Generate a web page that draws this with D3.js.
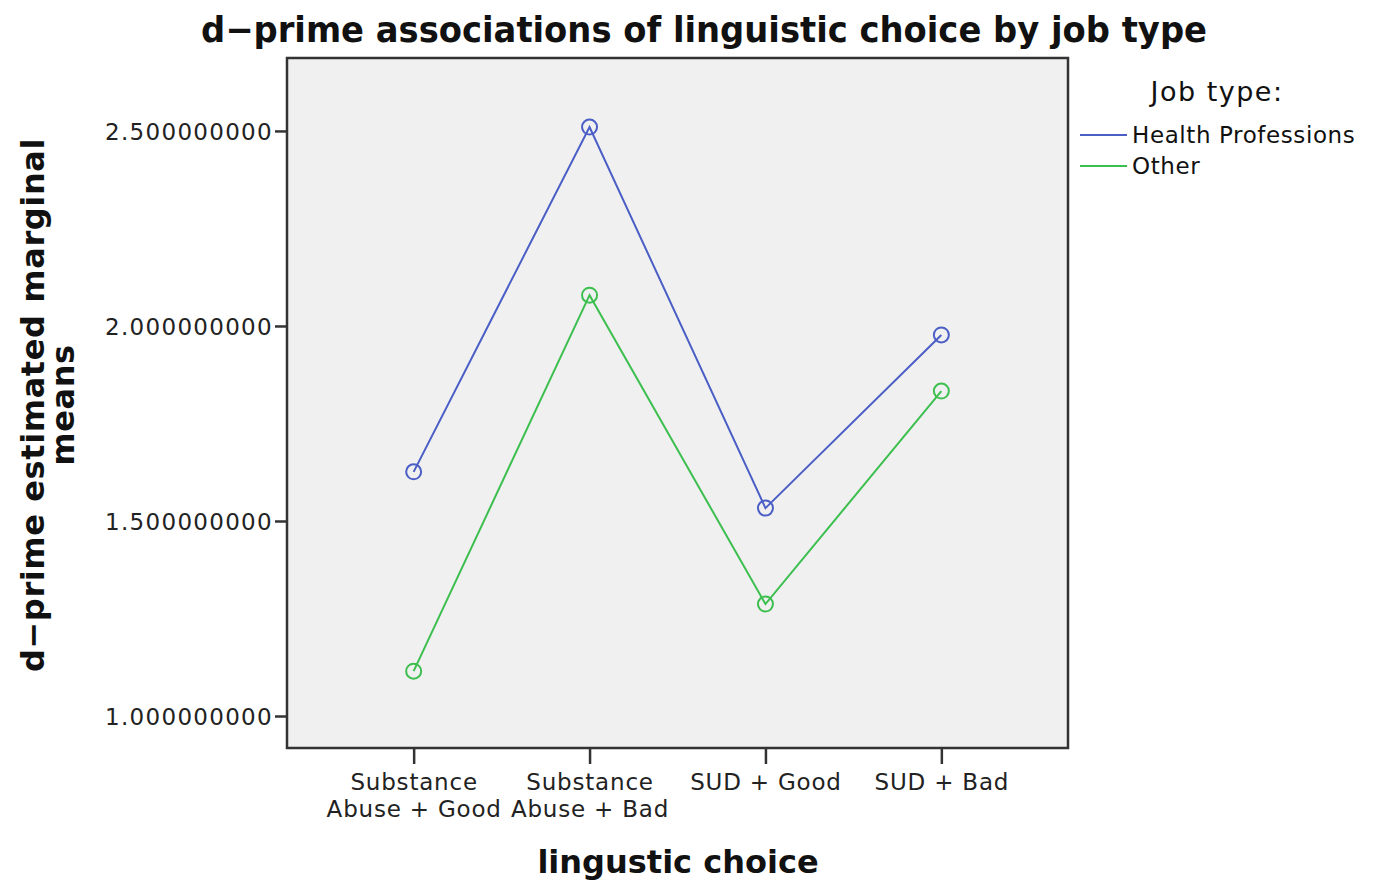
<!DOCTYPE html>
<html>
<head>
<meta charset="utf-8">
<script src="https://cdn.jsdelivr.net/npm/d3@7"></script>
<style>
  body { margin: 0; background: #fff; }
  text { font-family: "DejaVu Sans", sans-serif; fill: #111; }
</style>
</head>
<body>
<div id="chart"></div>
<script>
var categories = [["Substance", "Abuse + Good"], ["Substance", "Abuse + Bad"], ["SUD + Good"], ["SUD + Bad"]];
var seriesNames = ["Health Professions", "Other"];
var healthValues = [1.626, 2.510, 1.533, 1.977];
var otherValues = [1.115, 2.079, 1.287, 1.833];
var yTicks = [1.0, 1.5, 2.0, 2.5];
var colors = { "Health Professions": "#4a5ec6", "Other": "#3dbf4f" };

var width = 1376, height = 888;
var plot = { left: 287, right: 1068, top: 58, bottom: 748 };

//remove content before drawing
d3.select("#chart").selectAll("*").remove();

var svg = d3.select("#chart")
  .append("svg")
  .attr("width", width)
  .attr("height", height);

var x = d3.scalePoint()
  .domain(d3.range(categories.length))
  .range([plot.left, plot.right])
  .padding(0.72);

var y = d3.scaleLinear()
  .domain([0.918, 2.687])
  .range([plot.bottom, plot.top]);

// plot background
svg.append("rect")
  .attr("x", plot.left)
  .attr("y", plot.top)
  .attr("width", plot.right - plot.left)
  .attr("height", plot.bottom - plot.top)
  .style("fill", "#f0f0f0")
  .style("stroke", "#333")
  .style("stroke-width", 2.5);

// y axis
var yAxis = svg.append("g")
  .attr("transform", "translate(" + plot.left + ",0)")
  .call(d3.axisLeft(y).tickValues(yTicks).tickSize(12).tickPadding(2)
    .tickFormat(d3.format(".9f")));
yAxis.select(".domain").remove();
yAxis.selectAll("line").style("stroke", "#333").style("stroke-width", 2.5);
yAxis.selectAll("text")
  .style("font-size", "23px")
  .style("letter-spacing", "1.3px")
  .attr("dy", "0.35em")
  .style("fill", "#222");

// x axis
var xAxis = svg.append("g")
  .attr("transform", "translate(0," + plot.bottom + ")")
  .call(d3.axisBottom(x).tickSize(16).tickFormat(""));
xAxis.select(".domain").remove();
xAxis.selectAll("line").style("stroke", "#333").style("stroke-width", 2.5);
xAxis.selectAll(".tick").each(function(d) {
  var t = d3.select(this).append("text")
    .attr("text-anchor", "middle")
    .style("font-size", "23px")
    .style("letter-spacing", "0.8px")
    .style("fill", "#222");
  categories[d].forEach(function(line, i) {
    t.append("tspan").attr("x", 0).attr("y", 42 + i * 27).text(line);
  });
});

// series
var series = [
  { name: "Health Professions", values: healthValues },
  { name: "Other", values: otherValues }
];

var line = d3.line()
  .x(function(d, i) { return x(i); })
  .y(function(d) { return y(d); });

series.forEach(function(s) {
  svg.append("path")
    .datum(s.values)
    .attr("d", line)
    .style("fill", "none")
    .style("stroke", colors[s.name])
    .style("stroke-width", 2);
  svg.selectAll(null)
    .data(s.values)
    .enter()
    .append("circle")
    .attr("cx", function(d, i) { return x(i); })
    .attr("cy", function(d) { return y(d); })
    .attr("r", 7.5)
    .style("fill", "none")
    .style("stroke", colors[s.name])
    .style("stroke-width", 2);
});

// title
svg.append("text")
  .attr("x", 704)
  .attr("y", 42)
  .attr("text-anchor", "middle")
  .attr("textLength", 1006)
  .attr("lengthAdjust", "spacingAndGlyphs")
  .style("font-family", "'DejaVu Sans Condensed', 'DejaVu Sans', sans-serif")
  .style("font-weight", "bold")
  .style("font-size", "36px")
  .text("d\u2212prime associations of linguistic choice by job type");

// axis titles
svg.append("text")
  .attr("x", 678)
  .attr("y", 873)
  .attr("text-anchor", "middle")
  .style("font-weight", "bold")
  .style("font-size", "32px")
  .text("lingustic choice");

var yTitle = svg.append("text")
  .attr("transform", "translate(44,405) rotate(-90)")
  .attr("text-anchor", "middle")
  .style("font-weight", "bold")
  .style("font-size", "32px")
  .style("letter-spacing", "0.6px");
yTitle.append("tspan").attr("x", 0).attr("y", 0).text("d\u2212prime estimated marginal");
yTitle.append("tspan").attr("x", 0).attr("y", 30).text("means");

// legend
svg.append("text")
  .attr("x", 1217)
  .attr("y", 101)
  .attr("text-anchor", "middle")
  .style("font-size", "27px")
  .style("letter-spacing", "1.5px")
  .text("Job type:");

var legend = svg.append("g")
  .selectAll("g")
  .data(seriesNames)
  .enter()
  .append("g")
  .attr("transform", function(d, i) {
    return "translate(1080," + (135 + i * 31) + ")";
  });
legend.append("line")
  .attr("x1", 0)
  .attr("x2", 47)
  .style("stroke", function(d) { return colors[d]; })
  .style("stroke-width", 2);
legend.append("text")
  .attr("x", 52)
  .attr("dy", "0.35em")
  .style("font-size", "23px")
  .style("letter-spacing", "0.6px")
  .text(function(d) { return d; });
</script>
</body>
</html>
